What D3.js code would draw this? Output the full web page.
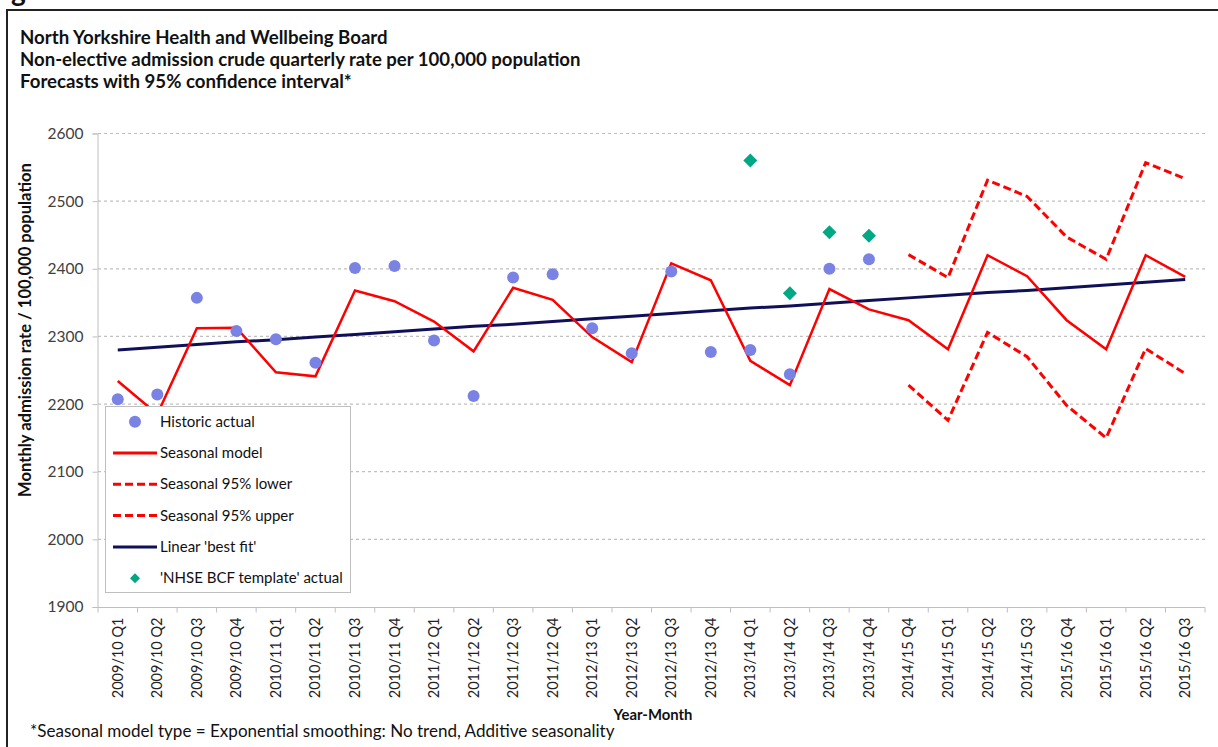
<!DOCTYPE html>
<html lang="en">
<head>
<meta charset="utf-8">
<title>Non-elective admissions forecast</title>
<script src="https://cdn.jsdelivr.net/npm/d3@7"></script>
<style>
  body { margin: 0; background: #fff; }
  text { font-family: Lato, "Liberation Sans", sans-serif; }
</style>
</head>
<body>
<script type="text/javascript">

var width = 1218;
var height = 747;

// chart data
var categories = ["2009/10 Q1", "2009/10 Q2", "2009/10 Q3", "2009/10 Q4",
                  "2010/11 Q1", "2010/11 Q2", "2010/11 Q3", "2010/11 Q4",
                  "2011/12 Q1", "2011/12 Q2", "2011/12 Q3", "2011/12 Q4",
                  "2012/13 Q1", "2012/13 Q2", "2012/13 Q3", "2012/13 Q4",
                  "2013/14 Q1", "2013/14 Q2", "2013/14 Q3", "2013/14 Q4",
                  "2014/15 Q4", "2014/15 Q1", "2014/15 Q2", "2014/15 Q3",
                  "2015/16 Q4", "2015/16 Q1", "2015/16 Q2", "2015/16 Q3"];

var historicActual = [2207, 2214, 2357, 2308, 2296, 2261, 2401, 2404, 2294, 2212,
                      2387, 2392, 2312, 2275, 2396, 2277, 2280, 2244, 2400, 2414];

var seasonalModel = [2234, 2185, 2312, 2313, 2247, 2241, 2368, 2352, 2322, 2278,
                     2372, 2354, 2299, 2262, 2408, 2383, 2264, 2228, 2370, 2340,
                     2324, 2281, 2420, 2389, 2324, 2281, 2420, 2388];

var forecastCats = ["2014/15 Q4", "2014/15 Q1", "2014/15 Q2", "2014/15 Q3",
                    "2015/16 Q4", "2015/16 Q1", "2015/16 Q2", "2015/16 Q3"];
var seasonalLower = [2228, 2176, 2306, 2270, 2198, 2150, 2282, 2245];
var seasonalUpper = [2421, 2387, 2531, 2507, 2447, 2414, 2557, 2533];

var linearFit = [2280, 2284, 2288, 2292, 2295, 2299, 2303, 2307, 2311, 2315,
                 2318, 2322, 2326, 2330, 2334, 2338, 2342, 2345, 2349, 2353,
                 2357, 2361, 2365, 2368, 2372, 2376, 2380, 2384];

var nhseCats = ["2013/14 Q1", "2013/14 Q2", "2013/14 Q3", "2013/14 Q4"];
var nhseActual = [2560, 2364, 2454, 2449];

var yTicks = [1900, 2000, 2100, 2200, 2300, 2400, 2500, 2600];

var titleLines = ["North Yorkshire Health and Wellbeing Board",
                  "Non-elective admission crude quarterly rate per 100,000 population",
                  "Forecasts with 95% confidence interval*"];

var legendItems = [
  {label: "Historic actual", type: "circle"},
  {label: "Seasonal model", type: "line", color: "#ff0000", dash: null},
  {label: "Seasonal 95% lower", type: "line", color: "#ff0000", dash: "8,4"},
  {label: "Seasonal 95% upper", type: "line", color: "#ff0000", dash: "8,4"},
  {label: "Linear 'best fit'", type: "line", color: "#10105a", dash: null},
  {label: "'NHSE BCF template' actual", type: "diamond"}
];

var dotColor = "#7a82e4";
var diamondColor = "#00a884";

var svg = d3.select("body").append("svg")
            .attr("width", width)
            .attr("height", height);

svg.append("rect").attr("width", width).attr("height", height).attr("fill", "#fff");

// fit a text element to a target width by scaling its font size
function fitWidth(sel, target) {
  var w = sel.node().getComputedTextLength();
  var fs = parseFloat(sel.attr("font-size"));
  sel.attr("font-size", fs * target / w);
}

// frame and cut-off heading above it
svg.append("text").attr("x", 11).attr("y", 1)
   .attr("font-size", 28).attr("font-weight", "bold").attr("fill", "#111").text("g");
svg.append("path")
   .attr("d", "M7," + height + "V10H" + width)
   .attr("fill", "none").attr("stroke", "#222").attr("stroke-width", 2);

var titleY = [44, 66, 88];
var titleW = [368, 561, 332];
titleLines.forEach(function(t, i) {
  var el = svg.append("text").attr("x", 20).attr("y", titleY[i])
              .attr("font-size", 16).attr("font-weight", "bold").attr("fill", "#111").text(t);
  fitWidth(el, titleW[i]);
});

var x = d3.scaleBand().domain(categories).range([98, 1205]);
var y = d3.scaleLinear().domain([1900, 2600]).range([607, 133.5]);
var cx = function(c) { return x(c) + x.bandwidth() / 2; };

// gridlines
svg.append("g").selectAll("line")
   .data(yTicks.slice(1))
   .enter().append("line")
   .attr("x1", 98).attr("x2", 1205)
   .attr("y1", function(d) { return y(d); }).attr("y2", function(d) { return y(d); })
   .attr("stroke", "#c0c0c0").attr("stroke-width", 1.2).attr("stroke-dasharray", "3,3");

// y axis
var yAxis = svg.append("g").attr("transform", "translate(97.5,0)")
               .call(d3.axisLeft(y).tickValues(yTicks).tickFormat(d3.format("d"))
                       .tickSize(5).tickPadding(9));
yAxis.select(".domain").attr("stroke", "#bfbfbf");
yAxis.selectAll(".tick line").attr("stroke", "#bfbfbf");
yAxis.selectAll(".tick text").attr("font-size", 15.5).attr("fill", "#404040")
     .attr("font-family", "Lato, sans-serif");

// x axis with ticks between categories
var xAxis = svg.append("g").attr("transform", "translate(0,607.5)");
xAxis.append("line").attr("x1", 98).attr("x2", 1205).attr("stroke", "#bfbfbf");
xAxis.selectAll(".sep")
     .data(categories.concat(["end"]))
     .enter().append("line")
     .attr("x1", function(d, i) { return 98 + i * x.step(); })
     .attr("x2", function(d, i) { return 98 + i * x.step(); })
     .attr("y1", 0).attr("y2", 5).attr("stroke", "#bfbfbf");
xAxis.selectAll(".lbl")
     .data(categories)
     .enter().append("text")
     .attr("transform", function(d) { return "translate(" + (cx(d) + 5) + ",10) rotate(-90)"; })
     .attr("text-anchor", "end")
     .attr("font-size", 14.5).attr("fill", "#222")
     .text(function(d) { return d; });

// axis titles
var yLabel = svg.append("text").attr("transform", "translate(31,330) rotate(-90)")
   .attr("text-anchor", "middle").attr("font-size", 14).attr("font-weight", "bold")
   .attr("fill", "#111").text("Monthly admission rate / 100,000 population");
fitWidth(yLabel, 334);

var xLabel = svg.append("text").attr("x", 653).attr("y", 720).attr("text-anchor", "middle")
   .attr("font-size", 14).attr("font-weight", "bold").attr("fill", "#111").text("Year-Month");
fitWidth(xLabel, 79);

var foot = svg.append("text").attr("x", 30).attr("y", 737).attr("font-size", 15)
   .attr("fill", "#111")
   .text("*Seasonal model type = Exponential smoothing: No trend, Additive seasonality");
fitWidth(foot, 585);

// series
var line = d3.line()
  .x(function(d) { return cx(d.c); })
  .y(function(d) { return y(d.v); });

function pairs(cats, vals) {
  return vals.map(function(v, i) { return {c: cats[i], v: v}; });
}

svg.append("path").datum(pairs(categories, linearFit))
   .attr("d", line).attr("fill", "none").attr("stroke", "#10105a").attr("stroke-width", 3);

svg.append("path").datum(pairs(forecastCats, seasonalLower))
   .attr("d", line).attr("fill", "none").attr("stroke", "#ff0000")
   .attr("stroke-width", 3).attr("stroke-dasharray", "8,4");
svg.append("path").datum(pairs(forecastCats, seasonalUpper))
   .attr("d", line).attr("fill", "none").attr("stroke", "#ff0000")
   .attr("stroke-width", 3).attr("stroke-dasharray", "8,4");

svg.append("path").datum(pairs(categories, seasonalModel))
   .attr("d", line).attr("fill", "none").attr("stroke", "#ff0000").attr("stroke-width", 2.5);

svg.append("g").selectAll("circle")
   .data(pairs(categories, historicActual))
   .enter().append("circle")
   .attr("cx", function(d) { return cx(d.c); })
   .attr("cy", function(d) { return y(d.v); })
   .attr("r", 6).attr("fill", dotColor);

var diamond = d3.symbol().type(d3.symbolSquare).size(98);
svg.append("g").selectAll("path")
   .data(pairs(nhseCats, nhseActual))
   .enter().append("path")
   .attr("d", diamond)
   .attr("transform", function(d) { return "translate(" + cx(d.c) + "," + y(d.v) + ") rotate(45)"; })
   .attr("fill", diamondColor);

// legend
var legend = svg.append("g");
legend.append("rect").attr("x", 105.5).attr("y", 406.5).attr("width", 245).attr("height", 186)
      .attr("fill", "#fff").attr("stroke", "#bfbfbf");
var rows = legend.selectAll(".row").data(legendItems).enter().append("g")
                 .attr("transform", function(d, i) { return "translate(0," + (421.7 + i * 31.3) + ")"; });
rows.each(function(d) {
  var g = d3.select(this);
  if (d.type === "circle") {
    g.append("circle").attr("cx", 135).attr("r", 6).attr("fill", dotColor);
  } else if (d.type === "diamond") {
    g.append("path").attr("d", d3.symbol().type(d3.symbolSquare).size(50))
     .attr("transform", "translate(135,0) rotate(45)").attr("fill", diamondColor);
  } else {
    g.append("line").attr("x1", 113).attr("x2", 157)
     .attr("stroke", d.color).attr("stroke-width", 3)
     .attr("stroke-dasharray", d.dash);
  }
  var t = g.append("text").attr("x", 160).attr("y", 5).attr("font-size", 14)
   .attr("fill", "#111").text(d.label);
  if (d.type === "diamond") fitWidth(t, 183);
});
// keep all legend labels at the size of the widest one
var legendFs = rows.filter(function(d) { return d.type === "diamond"; }).select("text").attr("font-size");
rows.selectAll("text").attr("font-size", legendFs);

</script>
</body>
</html>
